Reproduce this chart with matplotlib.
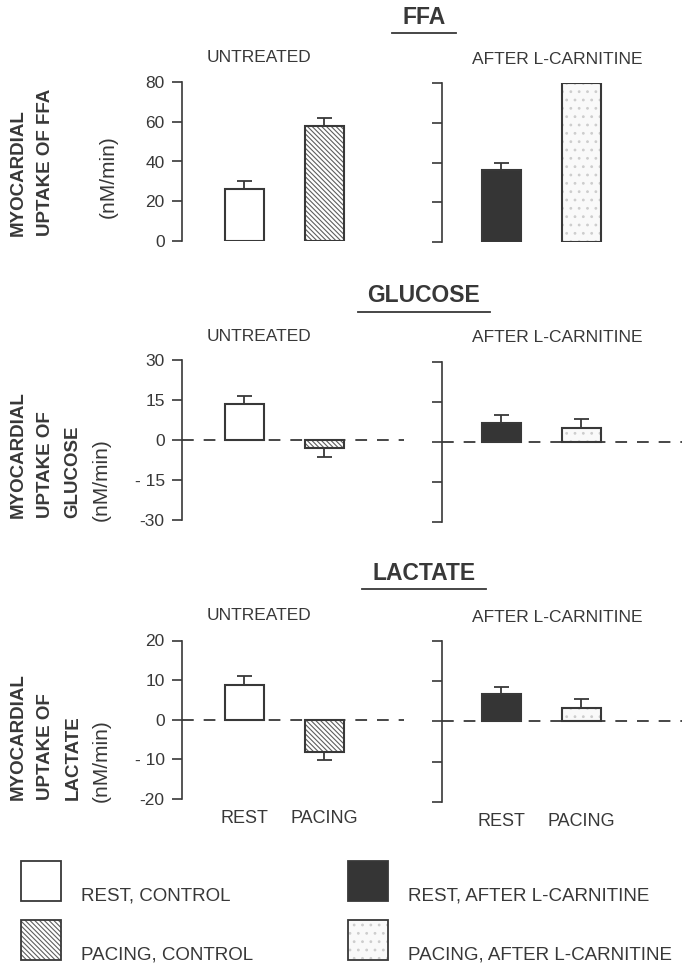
import numpy as np
import matplotlib.pyplot as plt
from matplotlib.patches import Rectangle
from matplotlib.lines import Line2D

plt.rcParams['font.family'] = ['Liberation Sans', 'DejaVu Sans']
plt.rcParams['hatch.linewidth'] = 0.8

W, H = 682, 968
ink = '#383838'

# group / condition names
groups = ['UNTREATED', 'AFTER L-CARNITINE']
conditions = ['REST', 'PACING']
legend_labels = ['REST, CONTROL', 'PACING, CONTROL',
                 'REST, AFTER L-CARNITINE', 'PACING, AFTER L-CARNITINE']

# mean uptake (nM/min) and error (one-sided bars)
ffa_untreated = [26, 58]
ffa_untreated_err = [4, 4]
ffa_carnitine = [36, 80]
ffa_carnitine_err = [4, 4]

glucose_untreated = [13.5, -3.2]
glucose_untreated_err = [3.0, 3.2]
glucose_carnitine = [7.2, 5.3]
glucose_carnitine_err = [3.0, 3.3]

lactate_untreated = [8.7, -8.2]
lactate_untreated_err = [2.3, 2.0]
lactate_carnitine = [6.8, 3.2]
lactate_carnitine_err = [1.7, 2.3]

ffa_ticks = [0, 20, 40, 60, 80]
ffa_ticklabels = ['0', '20', '40', '60', '80']
glucose_ticks = [-30, -15, 0, 15, 30]
glucose_ticklabels = ['-30', '- 15', '0', '15', '30']
lactate_ticks = [-20, -10, 0, 10, 20]
lactate_ticklabels = ['-20', '- 10', '0', '10', '20']

fig = plt.figure(figsize=(W / 100, H / 100), dpi=100)
fig.patch.set_facecolor('white')

STIPPLE_FACE = '#f9f9f9'
STIPPLE_DOT = '#cdcdcd'
HATCH_COL = '#5e5e5e'
HATCH = '\\' * 7


def px_axes(x0, x1, ytop, ybot):
    return fig.add_axes([x0 / W, 1 - ybot / H, (x1 - x0) / W, (ybot - ytop) / H])


def style_axis(ax, ticks, labels, show_labels):
    for s in ['top', 'right', 'bottom']:
        ax.spines[s].set_visible(False)
    ax.spines['left'].set_color(ink)
    ax.spines['left'].set_linewidth(1.2)
    ax.set_yticks(ticks)
    ax.set_ylim(ticks[0], ticks[-1])
    ax.tick_params(axis='y', direction='out', length=7.5, width=1.2,
                   color=ink, pad=5, labelsize=12.5, labelcolor=ink)
    if show_labels:
        ax.set_yticklabels(labels)
    else:
        ax.set_yticklabels([])
    ax.set_xticks([])
    ax.patch.set_alpha(0)


def draw_bars(ax, vals, errs, kinds, zero_line):
    x = np.arange(len(vals))
    w = 0.49
    if zero_line:
        ax.axhline(0, color=ink, lw=1.3, ls=(0, (6.5, 5.5)), zorder=1)
    for xi, v, k in zip(x, vals, kinds):
        if k == 'open':
            ax.bar(xi, v, w, color='white', edgecolor=ink, lw=1.5, zorder=3)
        elif k == 'hatch':
            ax.bar(xi, v, w, color='white', edgecolor=HATCH_COL, lw=0,
                   hatch=HATCH, zorder=2)
            ax.bar(xi, v, w, fill=False, edgecolor=ink, lw=1.5, zorder=3)
        elif k == 'solid':
            ax.bar(xi, v, w, color='#353535', edgecolor=ink, lw=1.5, zorder=3)
        else:
            ax.bar(xi, v, w, color=STIPPLE_FACE, edgecolor=STIPPLE_DOT, lw=0,
                   hatch='..', zorder=2)
            ax.bar(xi, v, w, fill=False, edgecolor=ink, lw=1.5, zorder=3)
    lower = [e if v < 0 else 0 for v, e in zip(vals, errs)]
    upper = [e if v >= 0 else 0 for v, e in zip(vals, errs)]
    ax.errorbar(x, vals, yerr=[lower, upper], fmt='none', ecolor=ink,
                elinewidth=1.3, capsize=5.4, capthick=1.3, zorder=1)


panels = [
    # (title, title y, sub y, left box, right box, data...)
    ('FFA', 17, 58, (82.3, 240.7), (83.0, 242.0),
     ffa_untreated, ffa_untreated_err, ffa_carnitine, ffa_carnitine_err,
     ffa_ticks, ffa_ticklabels, False),
    ('GLUCOSE', 296, 337, (360.0, 519.5), (362.0, 521.7),
     glucose_untreated, glucose_untreated_err, glucose_carnitine,
     glucose_carnitine_err, glucose_ticks, glucose_ticklabels, True),
    ('LACTATE', 573, 616, (640.5, 799.0), (641.0, 801.7),
     lactate_untreated, lactate_untreated_err, lactate_carnitine,
     lactate_carnitine_err, lactate_ticks, lactate_ticklabels, True),
]

titles = []
for i, (title, ty, sy, lbox, rbox, u, ue, c, ce, ticks, tl, zl) in enumerate(panels):
    axl = px_axes(182, 404, *lbox)
    axl.set_xlim(-0.78, 2.0)
    draw_bars(axl, u, ue, ['open', 'hatch'], zl)
    style_axis(axl, ticks, tl, True)

    axr = px_axes(442, 682, *rbox)
    axr.set_xlim(-0.74, 2.26)
    draw_bars(axr, c, ce, ['solid', 'stipple'], zl)
    style_axis(axr, ticks, tl, False)

    if i == 2:
        for ax in (axl, axr):
            ax.set_xticks(np.arange(len(conditions)))
            ax.set_xticklabels(conditions, fontsize=13, color=ink)
            ax.tick_params(axis='x', length=0, pad=8)

    t = fig.text(424 / W, 1 - ty / H, title, ha='center', va='center',
                 fontsize=16.5, fontweight='bold', color=ink)
    titles.append(t)
    fig.text(259 / W, 1 - sy / H, groups[0], ha='center', va='center',
             fontsize=12.5, color=ink)
    fig.text(557 / W, 1 - (sy + 1) / H, groups[1], ha='center', va='center',
             fontsize=12.5, color=ink)

# rotated y labels
def ylab(x, ybot, s, bold=True, size=13.5):
    fig.text(x / W, 1 - ybot / H, s, rotation=90, rotation_mode='anchor',
             ha='left', va='center', fontsize=size, color=ink,
             fontweight='bold' if bold else 'normal')

ylab(18, 236, 'MYOCARDIAL')
ylab(46, 236, 'UPTAKE OF FFA')
ylab(108, 218, '(nM/min)', bold=False, size=15)

ylab(18, 518, 'MYOCARDIAL')
ylab(46, 518, 'UPTAKE OF')
ylab(73, 518, 'GLUCOSE')
ylab(101, 521, '(nM/min)', bold=False, size=15)

ylab(18, 800, 'MYOCARDIAL')
ylab(46, 800, 'UPTAKE OF')
ylab(73, 800, 'LACTATE')
ylab(101, 802, '(nM/min)', bold=False, size=15)

# legend drawn in pixel space
leg = fig.add_axes([0, 0, 1, 1], zorder=-1)
leg.set_xlim(0, W)
leg.set_ylim(H, 0)
leg.axis('off')
swatches = [
    (21, 861, dict(facecolor='white', edgecolor=ink)),
    (21, 920, dict(facecolor='white', edgecolor=HATCH_COL, hatch=HATCH, lw=0)),
    (348, 861, dict(facecolor='#353535', edgecolor=ink)),
    (348, 920, dict(facecolor=STIPPLE_FACE, edgecolor=STIPPLE_DOT, hatch='..', lw=0)),
]
for (sx, sy, kw), lab in zip(swatches, legend_labels):
    kw.setdefault('lw', 1.3)
    leg.add_patch(Rectangle((sx, sy), 40, 40, **kw))
    if kw['lw'] == 0:
        leg.add_patch(Rectangle((sx, sy), 40, 40, fill=False, edgecolor=ink, lw=1.3))
    leg.text(sx + 60, sy + 35, lab, fontsize=13.5, color=ink, va='center', ha='left')

# underline the panel titles
fig.canvas.draw()
r = fig.canvas.get_renderer()
for t in titles:
    bb = t.get_window_extent(r)
    y = bb.y0 - 4
    fig.add_artist(Line2D([(bb.x0 - 10) / W, (bb.x1 + 10) / W], [y / H, y / H],
                          transform=fig.transFigure, color=ink, lw=1.3))

fig.savefig('out.png', dpi=100)
